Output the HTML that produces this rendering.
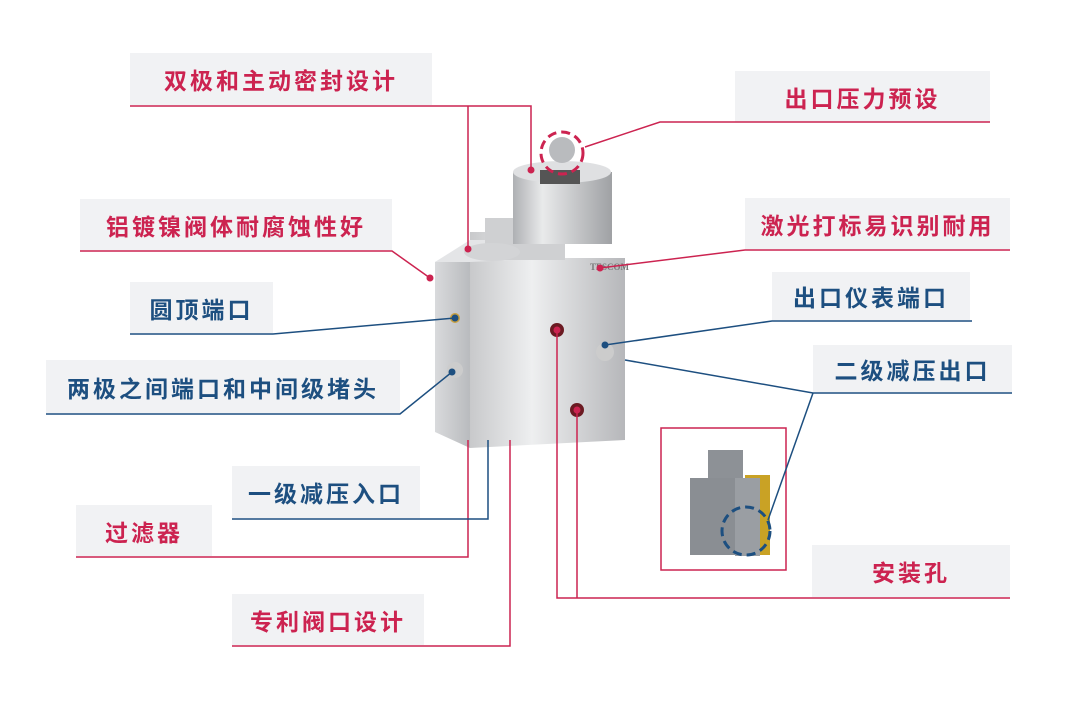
<!DOCTYPE html>
<html><head><meta charset="utf-8"><style>
body{margin:0;width:1080px;height:720px;background:#fff;position:relative;overflow:hidden;font-family:"Liberation Sans","Noto Sans CJK SC",sans-serif}
.b{position:absolute;background:#f1f2f4;font-size:23px;font-weight:bold;letter-spacing:3px;display:flex;align-items:center;justify-content:center}
.r{color:#cc2350}.u{color:#1d4f80}
svg{position:absolute;left:0;top:0}
</style></head><body>
<div class="b r" style="left:130px;top:53px;width:302px;height:52px">双极和主动密封设计</div>
<div class="b r" style="left:80px;top:199px;width:312px;height:51px">铝镀镍阀体耐腐蚀性好</div>
<div class="b u" style="left:130px;top:282px;width:143px;height:51px">圆顶端口</div>
<div class="b u" style="left:46px;top:360px;width:354px;height:53px">两极之间端口和中间级堵头</div>
<div class="b u" style="left:232px;top:466px;width:188px;height:52px">一级减压入口</div>
<div class="b r" style="left:76px;top:505px;width:136px;height:51px">过滤器</div>
<div class="b r" style="left:232px;top:594px;width:192px;height:51px">专利阀口设计</div>
<div class="b r" style="left:735px;top:71px;width:255px;height:51px">出口压力预设</div>
<div class="b r" style="left:745px;top:198px;width:265px;height:51px">激光打标易识别耐用</div>
<div class="b u" style="left:772px;top:272px;width:198px;height:48px">出口仪表端口</div>
<div class="b u" style="left:813px;top:345px;width:199px;height:47px">二级减压出口</div>
<div class="b r" style="left:812px;top:545px;width:198px;height:52px">安装孔</div>
<svg width="1080" height="720">
<defs>
<linearGradient id="g1" x1="0" x2="1"><stop offset="0" stop-color="#d9dadc"/><stop offset="1" stop-color="#b9bbbe"/></linearGradient>
<linearGradient id="g2" x1="0" x2="1"><stop offset="0" stop-color="#c8c9cb"/><stop offset=".4" stop-color="#eeeff0"/><stop offset="1" stop-color="#b6b7ba"/></linearGradient>
<linearGradient id="g3" x1="0" x2="1"><stop offset="0" stop-color="#aeb0b3"/><stop offset=".3" stop-color="#e9eaeb"/><stop offset="1" stop-color="#9fa1a4"/></linearGradient>
</defs>
<!-- body -->
<polygon points="470,232 560,232 560,258 625,258 625,440 470,448" fill="url(#g2)"/>
<polygon points="435,262 470,245 470,448 435,432" fill="url(#g1)"/>
<polygon points="435,262 470,240 560,240 560,258 470,262" fill="#e4e5e7"/>
<rect x="485" y="218" width="80" height="42" fill="#cfd0d2"/>
<ellipse cx="492" cy="252" rx="28" ry="9" fill="#d3d4d6"/>
<rect x="513" y="172" width="99" height="72" fill="url(#g3)"/>
<ellipse cx="562" cy="172" rx="49" ry="11" fill="#dfe0e2"/>
<rect x="540" y="170" width="40" height="14" fill="#555"/>
<circle cx="562" cy="150" r="13" fill="#b9bbbe"/>
<text x="590" y="270" font-size="9" font-weight="bold" fill="#777" font-family="Liberation Serif,serif">TESCOM</text>
<circle cx="557" cy="330" r="7" fill="#6b1a22"/><circle cx="577" cy="410" r="7" fill="#6b1a22"/>
<circle cx="605" cy="352" r="9" fill="#ccc"/><circle cx="455" cy="318" r="5" fill="#c8a040"/><circle cx="455" cy="370" r="8" fill="#ccc"/>
<!-- inset -->
<rect x="661" y="428" width="125" height="142" fill="#fff" stroke="#cc2350" stroke-width="1.5"/>
<rect x="708" y="450" width="35" height="30" fill="#8d9196"/>
<polygon points="690,478 760,478 770,555 690,555" fill="#8a8e93"/>
<rect x="745" y="475" width="25" height="80" fill="#c9a225"/>
<rect x="735" y="478" width="25" height="78" fill="#9a9ea3"/>
<circle cx="746" cy="531" r="24" fill="none" stroke="#1d4f80" stroke-width="3" stroke-dasharray="9 5"/>
<circle cx="562" cy="153" r="21" fill="none" stroke="#cc2350" stroke-width="3" stroke-dasharray="9 5"/>
<g fill="none" stroke-width="1.5">
<g stroke="#cc2350">
<polyline points="130,106 531,106 531,170"/><line x1="468" y1="106" x2="468" y2="249"/>
<polyline points="80,251 392,251 430,278"/>
<polyline points="990,122 660,122 585,147"/>
<polyline points="1010,250 745,250 600,268"/>
<polyline points="557,330 557,598 1010,598"/><line x1="577" y1="410" x2="577" y2="598"/>
<polyline points="76,557 468,557 468,440"/>
<polyline points="232,646 510,646 510,440"/>
</g>
<g stroke="#1d4f80">
<polyline points="130,334 273,334 455,318"/>
<polyline points="46,414 400,414 452,372"/>
<polyline points="972,321 772,321 605,345"/>
<polyline points="625,360 813,393 1012,393"/><line x1="813" y1="393" x2="768" y2="520"/>
<polyline points="232,519 488,519 488,440"/>
</g></g>
<g fill="#cc2350"><circle cx="531" cy="170" r="3.5"/><circle cx="468" cy="249" r="3.5"/><circle cx="430" cy="278" r="3.5"/><circle cx="600" cy="268" r="3.5"/><circle cx="557" cy="330" r="3.5"/><circle cx="577" cy="410" r="3.5"/></g>
<g fill="#1d4f80"><circle cx="455" cy="318" r="3.5"/><circle cx="452" cy="372" r="3.5"/><circle cx="605" cy="345" r="3.5"/></g>
</svg>
</body></html>
